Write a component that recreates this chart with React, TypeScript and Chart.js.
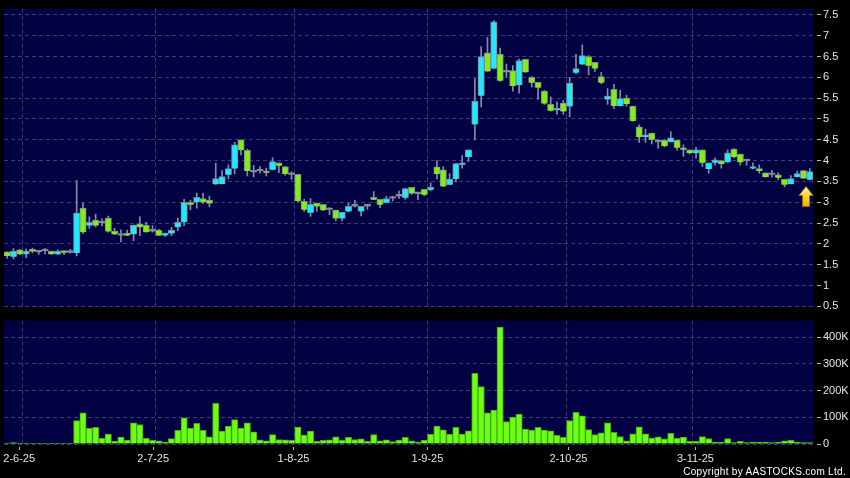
import React, { useEffect, useRef } from "react";
import { Chart, registerables } from "chart.js";

Chart.register(...registerables);

const opens = [1.81,1.69,1.86,1.75,1.86,1.80,1.83,1.83,1.75,1.83,1.79,1.78,2.86,2.44,2.57,2.50,2.62,2.31,2.20,2.26,2.23,2.48,2.45,2.30,2.33,2.20,2.25,2.40,2.52,3.00,3.00,3.09,3.05,3.43,3.44,3.66,3.81,4.50,4.25,3.72,3.75,3.75,3.78,3.95,3.86,3.66,3.67,3.02,2.75,2.98,2.95,2.82,2.81,2.61,2.78,2.90,2.78,2.90,3.12,3.07,2.99,3.09,3.14,3.11,3.36,3.20,3.31,3.30,3.85,3.78,3.42,3.56,3.90,4.09,4.87,5.56,6.59,6.21,6.55,6.12,6.16,5.81,6.43,6.00,5.88,5.67,5.35,5.21,5.38,5.30,6.11,6.31,6.50,6.36,6.02,5.47,5.71,5.31,5.50,5.31,4.81,4.57,4.66,4.45,4.49,4.45,4.49,4.31,4.26,4.18,4.26,3.80,3.95,4.00,3.96,4.28,4.16,3.99,3.81,3.81,3.71,3.66,3.66,3.55,3.44,3.61,3.76,3.54];
const highs = [1.81,1.89,1.87,1.88,1.90,1.84,1.89,1.83,1.86,1.83,1.87,3.52,2.98,2.65,2.71,2.60,2.67,2.38,2.34,2.33,2.45,2.65,2.52,2.44,2.35,2.26,2.40,2.62,3.07,3.05,3.22,3.22,3.15,3.94,3.76,3.90,4.44,4.50,4.28,3.89,3.86,3.82,4.07,3.95,3.86,3.74,3.67,3.07,3.09,2.98,2.95,2.87,2.81,2.76,2.98,3.05,2.90,2.95,3.26,3.07,3.14,3.14,3.27,3.34,3.36,3.23,3.31,3.47,4.00,3.86,3.69,3.93,4.12,4.26,5.97,6.74,6.96,7.36,6.70,6.32,6.28,6.44,6.44,6.02,5.88,5.69,5.53,5.41,5.45,6.00,6.55,6.78,6.52,6.36,6.12,5.73,5.83,5.69,5.57,5.31,4.86,4.76,4.66,4.50,4.50,4.70,4.49,4.38,4.26,4.32,4.26,3.95,4.07,4.00,4.26,4.29,4.16,4.04,3.95,3.90,3.71,3.77,3.71,3.55,3.64,3.75,3.77,3.81];
const lows = [1.66,1.64,1.74,1.67,1.79,1.75,1.76,1.75,1.74,1.74,1.78,1.71,2.25,2.37,2.41,2.43,2.28,2.22,2.05,2.20,2.08,2.20,2.28,2.28,2.20,2.18,2.20,2.32,2.44,2.82,2.86,2.97,2.89,3.43,3.44,3.56,3.68,4.14,3.63,3.61,3.70,3.63,3.78,3.71,3.65,3.55,3.00,2.78,2.66,2.78,2.80,2.70,2.56,2.55,2.77,2.88,2.67,2.83,3.06,2.87,2.99,3.03,3.09,3.07,3.19,3.06,3.16,3.27,3.56,3.38,3.42,3.49,3.82,3.98,4.50,5.29,6.14,6.21,5.90,6.00,5.67,5.62,6.12,5.77,5.47,5.35,5.19,5.11,5.11,5.05,6.09,6.31,6.06,6.14,5.85,5.35,5.25,5.31,5.31,4.95,4.44,4.44,4.40,4.30,4.33,4.45,4.25,4.10,4.16,4.06,3.86,3.70,3.89,3.82,3.96,4.07,3.89,3.89,3.80,3.70,3.60,3.60,3.54,3.37,3.44,3.61,3.57,3.54];
const closes = [1.71,1.83,1.75,1.83,1.82,1.80,1.83,1.75,1.83,1.79,1.79,2.74,2.28,2.52,2.44,2.50,2.30,2.23,2.20,2.20,2.45,2.40,2.28,2.30,2.20,2.26,2.33,2.52,3.00,2.94,3.12,3.00,2.97,3.57,3.62,3.81,4.38,4.25,3.75,3.72,3.75,3.71,3.98,3.88,3.68,3.66,3.03,2.82,2.95,2.90,2.81,2.82,2.61,2.76,2.90,2.90,2.90,2.90,3.06,2.94,3.09,3.09,3.14,3.33,3.21,3.20,3.18,3.36,3.68,3.38,3.56,3.93,3.95,4.26,5.43,6.50,6.14,7.33,5.92,6.12,5.79,6.40,6.12,5.87,5.75,5.37,5.20,5.25,5.18,5.86,6.21,6.52,6.28,6.21,5.87,5.55,5.31,5.49,5.36,4.95,4.56,4.62,4.50,4.45,4.35,4.55,4.31,4.26,4.18,4.26,3.95,3.95,4.02,3.92,4.19,4.09,3.96,3.99,3.85,3.75,3.61,3.66,3.59,3.42,3.57,3.69,3.57,3.74];
const volumes = [1000,5000,1000,1000,1000,800,600,800,1000,800,500,88000,117000,59000,62000,21000,37000,11000,26000,15000,79000,73000,21000,14000,12000,7000,20000,51000,98000,60000,77000,51000,27000,152000,48000,67000,91000,60000,79000,46000,16000,12000,35000,17000,16000,14000,63000,33000,48000,10000,14000,16000,27000,14000,25000,17000,19000,10000,35000,12000,16000,9000,15000,25000,12000,7000,15000,36000,67000,53000,36000,62000,37000,49000,265000,215000,117000,127000,438000,84000,101000,112000,56000,52000,62000,52000,49000,32000,25000,88000,119000,105000,54000,35000,42000,79000,44000,28000,12000,38000,64000,38000,22000,27000,19000,40000,21000,26000,10000,10000,28000,20000,6000,6000,20000,5000,10000,5000,7000,6000,7000,5000,6000,12000,14000,6000,5000,5000];

const dateLabels = ["2-6-25", "2-7-25", "1-8-25", "1-9-25", "2-10-25", "3-11-25"];
const dateTickIndex = [1.9, 23.1, 45.3, 66.5, 88.8, 108.9];
const dateGridIndex = [2.5, 23.5, 45.5, 66.5, 88.5, 108.5];
const priceTicks = [0.5, 1, 1.5, 2, 2.5, 3, 3.5, 4, 4.5, 5, 5.5, 6, 6.5, 7, 7.5];
const volumeTicks = [0, 100000, 200000, 300000, 400000];

const NAVY = "#000042";
const GRID = "#3c3c78";
const TEXT = "#e4e4e4";
const FONT = { family: "'Liberation Sans', Arial, sans-serif", size: 11 };
const X_MIN = -0.5;
const X_MAX = 127.5;

const plotBg = {
  id: "plotBg",
  beforeDraw(chart: any) {
    const { ctx, chartArea: a } = chart;
    ctx.save();
    ctx.fillStyle = "#000000";
    ctx.fillRect(0, 0, chart.width, chart.height);
    ctx.fillStyle = NAVY;
    ctx.fillRect(a.left, a.top, a.right - a.left, a.bottom - a.top);
    ctx.restore();
  },
};

const lastArrow = {
  id: "lastArrow",
  afterDatasetsDraw(chart: any) {
    const { ctx, scales } = chart;
    const cx = scales.x.getPixelForValue(126.4);
    const tip = scales.y.getPixelForValue(3.38);
    const base = scales.y.getPixelForValue(2.9);
    const g = ctx.createLinearGradient(0, tip, 0, base);
    g.addColorStop(0, "#fff8c0");
    g.addColorStop(0.4, "#ffdc40");
    g.addColorStop(1, "#f7ab00");
    ctx.save();
    ctx.beginPath();
    ctx.moveTo(cx, tip);
    ctx.lineTo(cx + 7, tip + 9);
    ctx.lineTo(cx + 3.5, tip + 9);
    ctx.lineTo(cx + 3.5, base);
    ctx.lineTo(cx - 3.5, base);
    ctx.lineTo(cx - 3.5, tip + 9);
    ctx.lineTo(cx - 7, tip + 9);
    ctx.closePath();
    ctx.fillStyle = g;
    ctx.fill();
    ctx.lineWidth = 1;
    ctx.strokeStyle = "#9a7418";
    ctx.stroke();
    ctx.restore();
  },
};

function gridX() {
  return {
    type: "linear",
    axis: "x",
    min: X_MIN,
    max: X_MAX,
    offset: false,
    position: "bottom",
    afterBuildTicks: (s: any) => {
      s.ticks = dateGridIndex.map((value) => ({ value }));
    },
    afterFit: (s: any) => {
      s.height = 0;
    },
    ticks: { display: false },
    border: { display: false, dash: [4, 3] },
    grid: { offset: false, color: GRID, drawTicks: false, lineWidth: 1 },
  };
}

function rightY(extra: any, tickValues: number[]) {
  return {
    position: "right",
    afterBuildTicks: (s: any) => {
      s.ticks = tickValues.map((value) => ({ value }));
    },
    afterFit: (s: any) => {
      s.width = 37;
    },
    border: { display: false, dash: [4, 3] },
    grid: {
      color: GRID,
      lineWidth: 1,
      tickLength: 8,
      tickColor: "#b8b8b8",
      tickBorderDash: [4, 4],
      tickBorderDashOffset: 4,
    },
    ...extra,
  };
}

export default function App() {
  const priceRef = useRef<HTMLCanvasElement>(null);
  const volRef = useRef<HTMLCanvasElement>(null);

  useEffect(() => {
    const bodyColor = opens.map((o, i) =>
      closes[i] > o ? "#22e8ff" : closes[i] < o ? "#82ee18" : "#8a8aa8"
    );
    const price = new Chart(priceRef.current as any, {
      type: "bar",
      data: {
        datasets: [
          {
            label: "Body",
            order: 1,
            data: opens.map((o, i) => ({ x: i, y: [o, closes[i]] })),
            backgroundColor: bodyColor,
            borderColor: "#7f8a90",
            borderWidth: 1,
            barThickness: 6.4,
            minBarLength: 2,
            grouped: false,
          },
          {
            label: "Wick",
            order: 2,
            data: lows.map((l, i) => ({ x: i, y: [l, highs[i]] })),
            backgroundColor: "#8a8aa6",
            borderWidth: 0,
            barThickness: 1,
            grouped: false,
          },
        ],
      } as any,
      options: {
        animation: false,
        responsive: false,
        events: [],
        layout: { padding: { left: 4, top: 6, right: 0, bottom: 11 } },
        plugins: { legend: { display: false }, tooltip: { enabled: false } },
        scales: {
          x: gridX(),
          y: rightY(
            {
              min: 0.486,
              max: 7.65,
              ticks: {
                color: TEXT,
                font: FONT,
                padding: 2,
                callback: (v: number) => String(v),
              },
            },
            priceTicks
          ),
        },
      } as any,
      plugins: [plotBg, lastArrow],
    } as any);

    const vol = new Chart(volRef.current as any, {
      type: "bar",
      data: {
        datasets: [
          {
            label: "Volume",
            data: volumes.map((v, i) => ({ x: i, y: v })),
            backgroundColor: "#6cff14",
            borderColor: "#48a814",
            borderWidth: 1,
            barThickness: 6.3,
            grouped: false,
          },
        ],
      } as any,
      options: {
        animation: false,
        responsive: false,
        events: [],
        layout: { padding: { left: 4, top: 7, right: 0, bottom: 0 } },
        plugins: { legend: { display: false }, tooltip: { enabled: false } },
        scales: {
          x: gridX(),
          x2: {
            type: "linear",
            axis: "x",
            min: X_MIN,
            max: X_MAX,
            offset: false,
            position: "bottom",
            afterBuildTicks: (s: any) => {
              s.ticks = dateTickIndex.map((value) => ({ value }));
            },
            afterFit: (s: any) => {
              s.height = 34;
            },
            border: { display: false },
            grid: {
              offset: false,
              drawOnChartArea: false,
              tickLength: 6,
              tickColor: "#b8b8b8",
              tickBorderDash: [3, 3],
              tickBorderDashOffset: 3,
            },
            ticks: {
              autoSkip: false,
              maxRotation: 0,
              color: TEXT,
              font: FONT,
              padding: 2,
              callback: (_v: any, i: number) => dateLabels[i],
            },
          },
          y: rightY(
            {
              min: 0,
              max: 462000,
              ticks: {
                color: TEXT,
                font: FONT,
                padding: 2,
                callback: (v: number) => (v === 0 ? "0" : `${v / 1000}K`),
              },
            },
            volumeTicks
          ),
        },
      } as any,
      plugins: [plotBg],
    } as any);

    return () => {
      price.destroy();
      vol.destroy();
    };
  }, []);

  return (
    <div style={{ position: "fixed", left: 0, top: 0, width: 850, height: 478, background: "#000", overflow: "hidden" }}>
      <canvas ref={priceRef} width={850} height={318} style={{ position: "absolute", left: 0, top: 0, display: "block" }} />
      <canvas ref={volRef} width={850} height={166} style={{ position: "absolute", left: 0, top: 312, display: "block" }} />
      <div
        style={{
          position: "absolute",
          right: 4,
          top: 466,
          font: "10px 'Liberation Sans', Arial, sans-serif",
          letterSpacing: "0.3px",
          color: "#ffffff",
          whiteSpace: "nowrap",
        }}
      >
        Copyright by AASTOCKS.com Ltd.
      </div>
    </div>
  );
}
